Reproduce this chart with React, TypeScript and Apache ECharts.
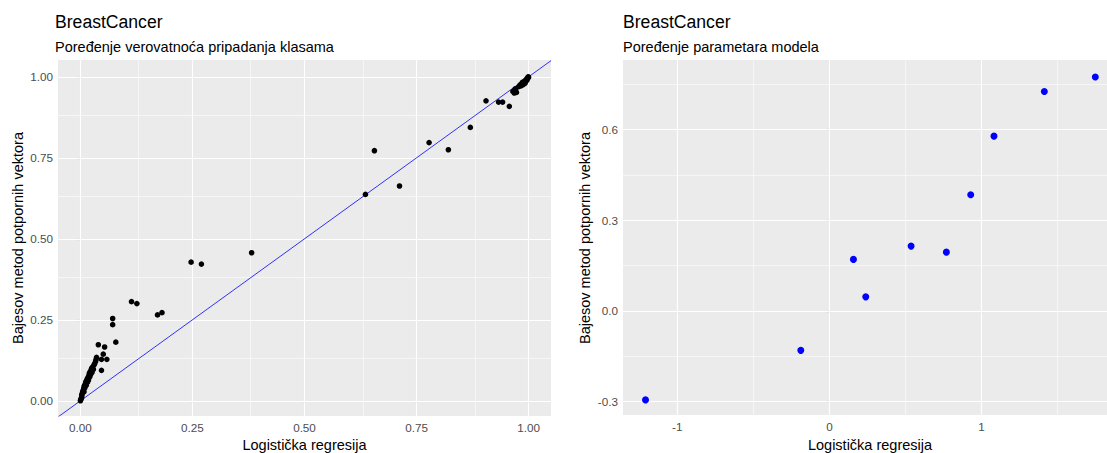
import React, { useEffect, useRef } from "react";
import * as echarts from "echarts";

// Left panel: class-membership probabilities (x: logistic regression, y: Bayesian SVM)
const probLogReg = [
  0.000, 0.001, 0.002, 0.003, 0.003, 0.004, 0.005, 0.006, 0.007, 0.008, 0.008, 0.009,
  0.010, 0.011, 0.012, 0.013, 0.014, 0.015, 0.016, 0.017, 0.018, 0.019, 0.020, 0.021,
  0.022, 0.023, 0.024, 0.025, 0.026, 0.027, 0.029, 0.030, 0.032, 0.034, 0.035, 0.036,
  0.040, 0.054, 0.051, 0.059, 0.047, 0.047, 0.079, 0.072, 0.072, 0.114, 0.126, 0.172,
  0.182, 0.247, 0.270, 0.382, 0.636, 0.656, 0.712, 0.778, 0.821, 0.870, 0.905, 0.933,
  0.942, 0.957, 0.965, 0.968, 0.971, 0.973, 0.970, 0.978, 0.981, 0.983, 0.985, 0.987,
  0.988, 0.990, 0.991, 0.993, 0.994, 0.995, 0.996, 0.997, 0.998, 0.999, 1.000, 0.999,
  0.992, 0.986,
];
const probSVM = [
  0.000, 0.004, 0.008, 0.012, 0.018, 0.022, 0.027, 0.031, 0.036, 0.028, 0.042, 0.047,
  0.040, 0.052, 0.058, 0.048, 0.062, 0.067, 0.058, 0.072, 0.064, 0.078, 0.085, 0.074,
  0.090, 0.082, 0.095, 0.100, 0.088, 0.104, 0.097, 0.110, 0.115, 0.122, 0.128, 0.134,
  0.173, 0.166, 0.144, 0.128, 0.128, 0.094, 0.181, 0.254, 0.235, 0.306, 0.300, 0.265,
  0.272, 0.428, 0.422, 0.457, 0.637, 0.772, 0.663, 0.797, 0.775, 0.844, 0.926, 0.922,
  0.922, 0.909, 0.955, 0.950, 0.960, 0.952, 0.963, 0.970, 0.975, 0.972, 0.978, 0.981,
  0.976, 0.984, 0.987, 0.985, 0.990, 0.992, 0.989, 0.994, 0.996, 0.998, 0.999, 1.000,
  0.980, 0.983,
];

// Right panel: model parameters
const paramLogReg = [-1.209, -0.188, 0.158, 0.239, 0.537, 0.769, 0.929, 1.082, 1.413, 1.748];
const paramSVM = [-0.295, -0.131, 0.170, 0.046, 0.214, 0.194, 0.384, 0.578, 0.726, 0.774];

// Tick values
const leftTicks = [0, 0.25, 0.5, 0.75, 1];
const leftMinor = [0.125, 0.375, 0.625, 0.875];
const rightXTicks = [-1, 0, 1];
const rightXMinor = [-0.5, 0.5, 1.5];
const rightYTicks = [-0.3, 0, 0.3, 0.6];
const rightYMinor = [-0.15, 0.15, 0.45, 0.75];
const ablineEnds = [-0.05, 1.05];

const titleText = "BreastCancer";
const leftSubtitle = "Poređenje verovatnoća pripadanja klasama";
const rightSubtitle = "Poređenje parametara modela";
const xTitle = "Logistička regresija";
const yTitle = "Bajesov metod potpornih vektora";

const FONT = "'Liberation Sans', Arial, sans-serif";

function axisCfg(gridIndex: number, min: number, max: number, ticks: number[], fmt: (v: number) => string) {
  return {
    type: "value",
    gridIndex,
    min,
    max,
    axisLine: { show: false },
    splitLine: { show: false },
    axisTick: { show: true, length: 3.7, lineStyle: { color: "#333333", width: 1.07 }, customValues: ticks },
    axisLabel: {
      customValues: ticks,
      formatter: (v: number) => fmt(v),
      color: "#4D4D4D",
      fontSize: 11.7,
      margin: 5,
      fontFamily: FONT,
    },
  };
}

function gridSeries(idx: number, xMaj: number[], xMin: number[], yMaj: number[], yMin: number[]) {
  const data: any[] = [];
  xMin.forEach((v) => data.push({ xAxis: v, lineStyle: { width: 0.55 } }));
  yMin.forEach((v) => data.push({ yAxis: v, lineStyle: { width: 0.55 } }));
  xMaj.forEach((v) => data.push({ xAxis: v, lineStyle: { width: 1.1 } }));
  yMaj.forEach((v) => data.push({ yAxis: v, lineStyle: { width: 1.1 } }));
  return {
    type: "scatter",
    xAxisIndex: idx,
    yAxisIndex: idx,
    data: [],
    z: 1,
    silent: true,
    markLine: {
      z: 1,
      silent: true,
      symbol: ["none", "none"],
      label: { show: false },
      lineStyle: { color: "#FFFFFF", type: "solid" },
      emphasis: { disabled: true },
      data,
    },
  };
}

export default function App() {
  const ref = useRef<HTMLDivElement>(null);
  useEffect(() => {
    if (!ref.current) return;
    const chart = echarts.init(ref.current, undefined, { renderer: "svg" });
    const leftPts = probLogReg.map((x, i) => [x, probSVM[i]]);
    const rightPts = paramLogReg.map((x, i) => [x, paramSVM[i]]);
    const f2 = (v: number) => v.toFixed(2);
    const f1 = (v: number) => v.toFixed(1);
    const f0 = (v: number) => String(Math.round(v));
    const txt = (x: number, y: number, text: string, size: number, extra: any = {}) => ({
      type: "text",
      x,
      y,
      style: { text, fontSize: size, fontFamily: FONT, fill: "#000000", verticalAlign: "middle", ...extra.style },
      ...extra.el,
    });
    chart.setOption({
      animation: false,
      backgroundColor: "#FFFFFF",
      grid: [
        { left: 58, top: 60, width: 493, height: 356, show: true, backgroundColor: "#EBEBEB", borderWidth: 0 },
        { left: 623, top: 60, right: 0, height: 355, show: true, backgroundColor: "#EBEBEB", borderWidth: 0 },
      ],
      xAxis: [
        axisCfg(0, -0.05, 1.05, leftTicks, f2),
        axisCfg(1, -1.357, 1.825, rightXTicks, f0),
      ],
      yAxis: [
        axisCfg(0, -0.047, 1.052, leftTicks, f2),
        axisCfg(1, -0.345, 0.830, rightYTicks, f1),
      ],
      series: [
        gridSeries(0, leftTicks, leftMinor, leftTicks, leftMinor),
        gridSeries(1, rightXTicks, rightXMinor, rightYTicks, rightYMinor),
        {
          type: "line",
          xAxisIndex: 0,
          yAxisIndex: 0,
          data: ablineEnds.map((v) => [v, v]),
          showSymbol: false,
          symbol: "none",
          lineStyle: { color: "#0000FF", width: 0.8 },
          z: 5,
          silent: true,
        },
        {
          type: "scatter",
          xAxisIndex: 0,
          yAxisIndex: 0,
          data: leftPts,
          symbolSize: 5.6,
          itemStyle: { color: "#000000", opacity: 1 },
          z: 8,
          silent: true,
        },
        {
          type: "scatter",
          xAxisIndex: 1,
          yAxisIndex: 1,
          data: rightPts,
          symbolSize: 7,
          itemStyle: { color: "#0000FF", opacity: 1 },
          z: 8,
          silent: true,
        },
      ],
      graphic: [
        txt(55, 22, titleText, 17.6),
        txt(55, 47, leftSubtitle, 14.5),
        txt(623, 22, titleText, 17.6),
        txt(623, 47, rightSubtitle, 14.5),
        txt(304.5, 445, xTitle, 14.5, { style: { align: "center" } }),
        txt(870, 445, xTitle, 14.5, { style: { align: "center" } }),
        txt(18, 238, yTitle, 14.5, { style: { align: "center" }, el: { rotation: Math.PI / 2 } }),
        txt(585, 238, yTitle, 14.5, { style: { align: "center" }, el: { rotation: Math.PI / 2 } }),
      ],
    });
    return () => chart.dispose();
  }, []);
  return (
    <div
      ref={ref}
      style={{ position: "fixed", left: 0, top: 0, width: 1107, height: 453 }}
    />
  );
}
